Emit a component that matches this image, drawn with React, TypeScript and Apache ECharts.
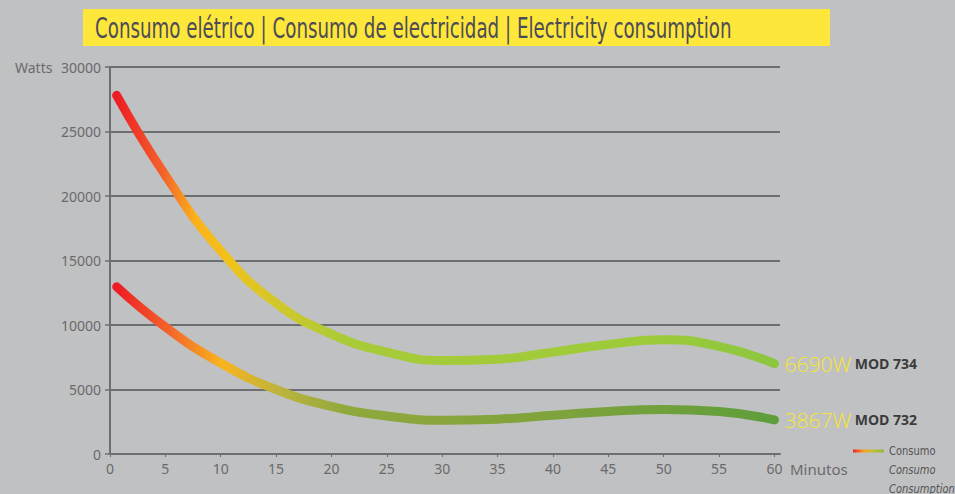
import React, { useEffect, useRef } from "react";
import * as echarts from "echarts";

const titleText = "Consumo elétrico | Consumo de electricidad | Electricity consumption";
const xTicks = [0, 5, 10, 15, 20, 25, 30, 35, 40, 45, 50, 55, 60];
const mod734: [number, number][] = [
  [0.6, 27800], [5, 21600], [10, 15750], [15, 11700], [20, 9300], [25, 7900],
  [30, 7250], [35, 7350], [40, 7900], [45, 8500], [50, 8850], [55, 8350], [60, 7000],
];
const mod732: [number, number][] = [
  [0.6, 12970], [5, 9850], [10, 7050], [15, 5000], [20, 3700], [25, 2950],
  [30, 2620], [35, 2700], [40, 3000], [45, 3300], [50, 3450], [55, 3300], [60, 2640],
];
const seriesNames = ["MOD 734", "MOD 732"];
const endValues = ["6690W", "3867W"];
const legendLines = ["Consumo", "Consumo", "Consumption"];

const GRID_COLOR = "#6c6f71";
const TEXT_COLOR = "#6a6a6a";
const NARROW = "'DejaVu Sans Condensed', 'DejaVu Sans'";

export default function App() {
  const ref = useRef<HTMLDivElement>(null);
  useEffect(() => {
    if (!ref.current) return;
    const chart = echarts.init(ref.current, null, { renderer: "svg" });
    const grad = (stops: [number, string][]) => ({
      type: "linear", x: 0, y: 0, x2: 1, y2: 0,
      colorStops: stops.map(([offset, color]) => ({ offset, color })),
    });
    const topGrad = grad([
      [0, "#ee1c25"], [0.07, "#f3622a"], [0.12, "#fbb21b"], [0.17, "#f0c21b"],
      [0.25, "#cfc82c"], [0.35, "#a8cb38"], [0.8, "#9dcb3a"], [1, "#8cc63f"],
    ]);
    const botGrad = grad([
      [0, "#ee1c25"], [0.08, "#f3652a"], [0.16, "#f8b41e"], [0.25, "#bbb43e"],
      [0.35, "#8fa83c"], [0.65, "#80a33c"], [1, "#5f9e3b"],
    ]);
    const endLabel = (i: number) => ({
      show: true,
      distance: 10,
      formatter: `{v|${endValues[i]}}{m| ${seriesNames[i]}}`,
      rich: {
        v: { fontFamily: "Open Sans", fontSize: 21, fontWeight: 300, color: "#f7e62a" },
        m: { fontFamily: "Open Sans", fontSize: 14, fontWeight: "bold", color: "#3b3b3b" },
      },
    });
    chart.setOption({
      animation: false,
      backgroundColor: "#c0c1c3",
      grid: { left: 110, right: 175, top: 67, bottom: 40, containLabel: false },
      xAxis: {
        type: "value", min: 0, max: 60.5, interval: 5,
        axisLine: { show: true, lineStyle: { color: GRID_COLOR, width: 2 } },
        axisTick: { show: true, length: 3, customValues: xTicks, lineStyle: { color: GRID_COLOR } },
        axisLabel: { customValues: xTicks, color: TEXT_COLOR, fontFamily: "Noto Sans", fontSize: 14, margin: 7 },
        splitLine: { show: false },
      },
      yAxis: {
        type: "value", min: 0, max: 30000, interval: 5000,
        axisLine: { show: true, lineStyle: { color: GRID_COLOR, width: 2 } },
        axisTick: { show: true, length: 5, lineStyle: { color: GRID_COLOR, width: 1.5 } },
        axisLabel: {
          color: TEXT_COLOR, fontFamily: "Noto Sans", fontSize: 14, margin: 9,
          formatter: (v: number) => String(v),
        },
        splitLine: { show: true, lineStyle: { color: GRID_COLOR, width: 2 } },
      },
      series: [
        {
          name: seriesNames[0], type: "line", data: mod734, smooth: 0.5, showSymbol: false,
          lineStyle: { width: 9, color: topGrad, cap: "round" }, endLabel: endLabel(0),
        },
        {
          name: seriesNames[1], type: "line", data: mod732, smooth: 0.5, showSymbol: false,
          lineStyle: { width: 9, color: botGrad, cap: "round" }, endLabel: endLabel(1),
        },
      ],
      graphic: [
        { type: "rect", shape: { x: 83, y: 9, width: 747, height: 37 }, style: { fill: "#fde73a" } },
        {
          type: "text", x: 95, y: 28, scaleX: 0.7,
          style: { text: titleText, font: `29px ${NARROW}`, fill: "#4d4b58", verticalAlign: "middle" },
        },
        { type: "text", x: 15, y: 67, style: { text: "Watts", font: "14px 'Noto Sans'", fill: TEXT_COLOR, verticalAlign: "middle" } },
        { type: "text", x: 790, y: 469, style: { text: "Minutos", font: "15px 'Noto Sans'", fill: TEXT_COLOR, verticalAlign: "middle" } },
        {
          type: "rect", shape: { x: 853, y: 449.5, width: 31, height: 3 },
          style: { fill: grad([[0, "#ee1c25"], [0.35, "#f8a11e"], [0.6, "#c7c02e"], [1, "#8dbb3c"]]) },
        },
        { type: "text", x: 889, y: 451, scaleX: 0.85, style: { text: legendLines[0], font: `13px ${NARROW}`, fill: "#555", verticalAlign: "middle" } },
        { type: "text", x: 889, y: 470, scaleX: 0.85, style: { text: legendLines[1], font: `italic 13px ${NARROW}`, fill: "#555", verticalAlign: "middle" } },
        { type: "text", x: 889, y: 489, scaleX: 0.85, style: { text: legendLines[2], font: `italic 13px ${NARROW}`, fill: "#555", verticalAlign: "middle" } },
      ],
    });
    return () => chart.dispose();
  }, []);
  return (
    <div
      ref={ref}
      style={{ position: "fixed", left: 0, top: 0, width: 955, height: 494 }}
    />
  );
}
